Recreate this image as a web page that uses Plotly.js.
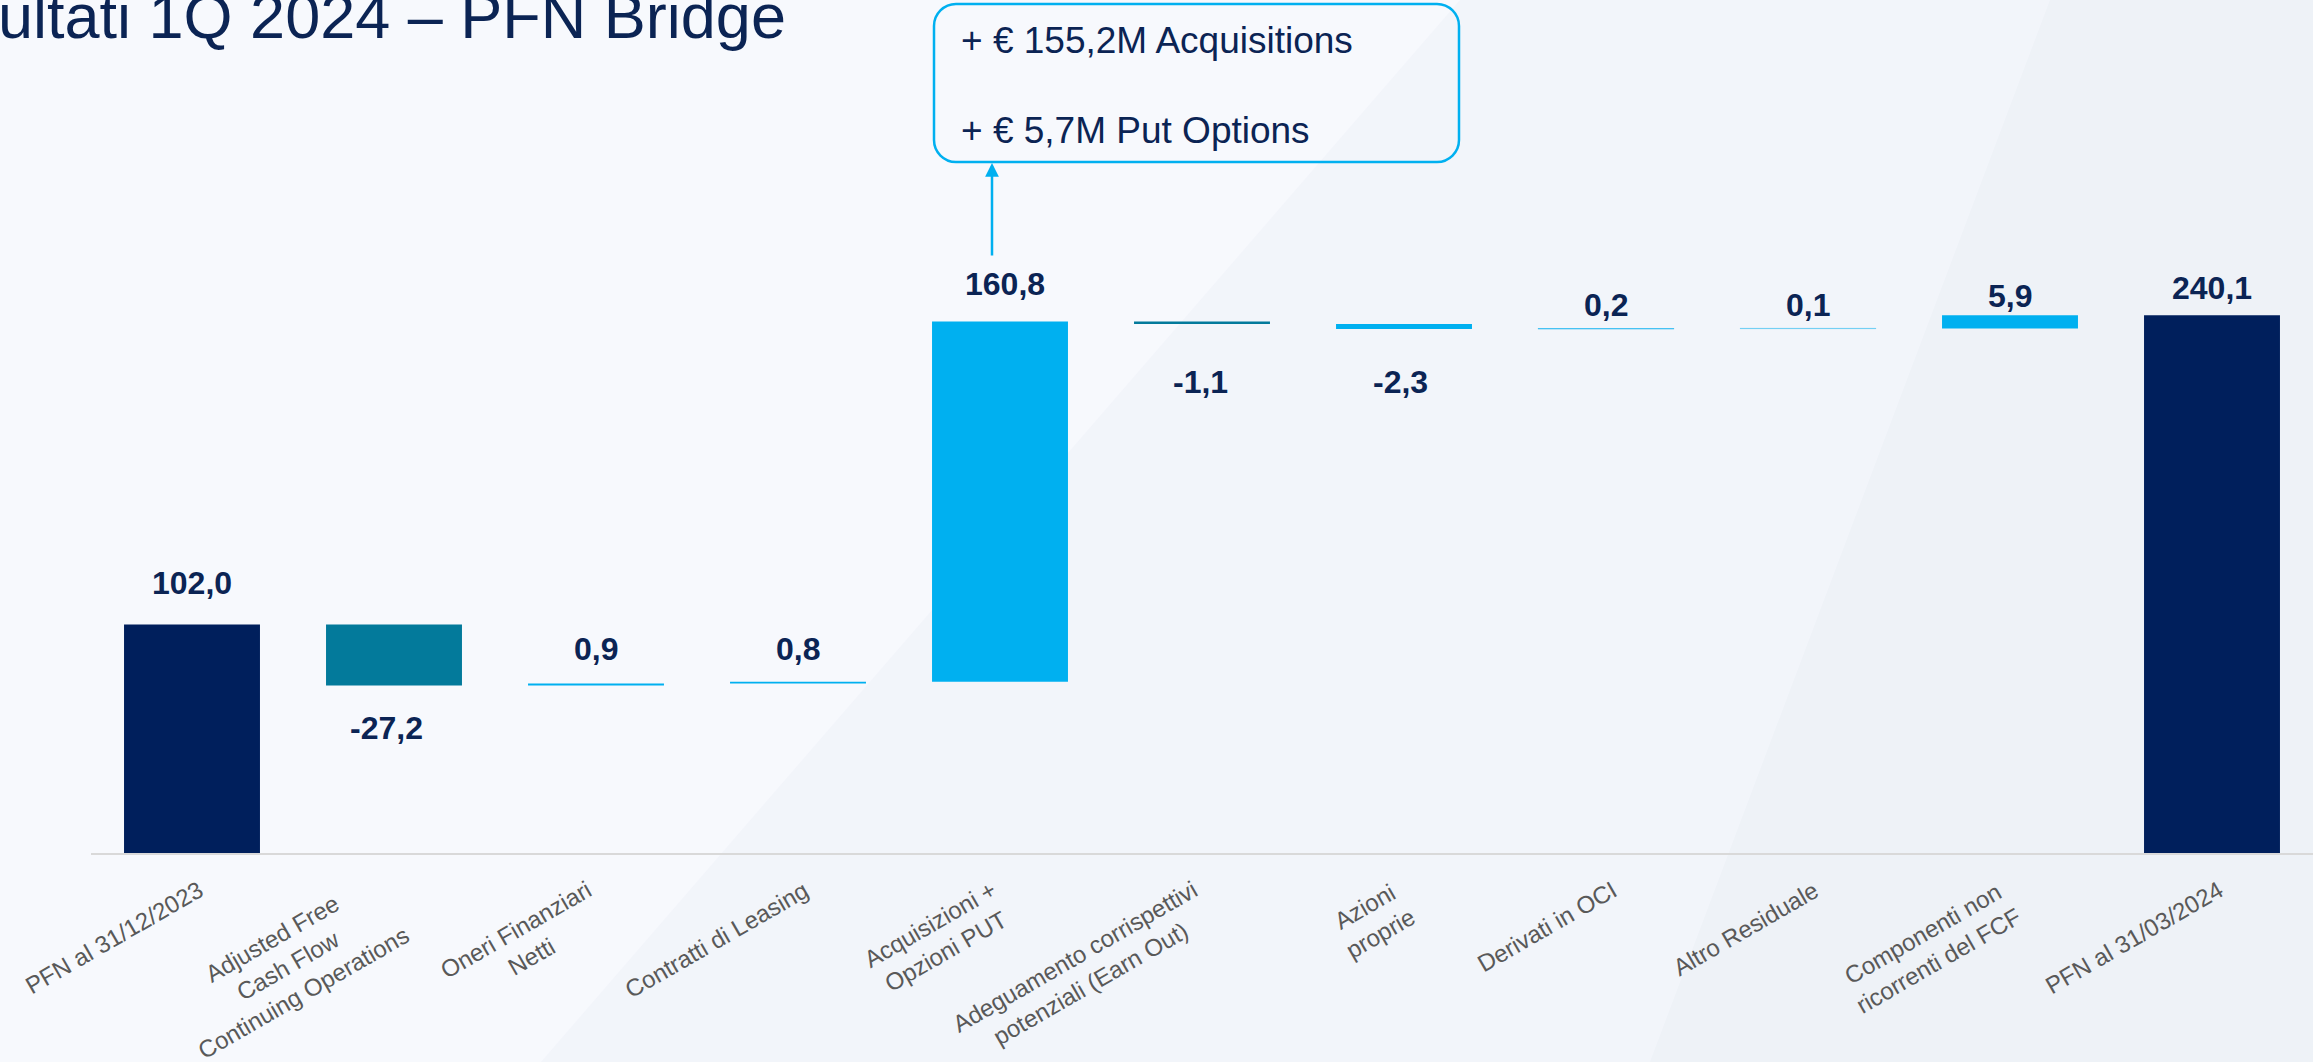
<!DOCTYPE html>
<html>
<head>
<meta charset="utf-8">
<script src="https://cdn.plot.ly/plotly-3.0.1.min.js"></script>
<style>
  html, body { margin: 0; padding: 0; background: #F7F9FD; }
  #chart { width: 2313px; height: 1062px; }
</style>
</head>
<body>
<div id="chart"></div>
<script>
// ---------------- DATA ----------------
const categories = [
  'PFN al 31/12/2023',
  'Adjusted Free<br>Cash Flow<br>Continuing Operations',
  'Oneri Finanziari<br>Netti',
  'Contratti di Leasing',
  'Acquisizioni +<br>Opzioni PUT',
  'Adeguamento corrispettivi<br>potenziali (Earn Out)',
  'Azioni<br>proprie',
  'Derivati in OCI',
  'Altro Residuale',
  'Componenti non<br>ricorrenti del FCF',
  'PFN al 31/03/2024'
];
const values = [102.0, -27.2, 0.9, 0.8, 160.8, -1.1, -2.3, 0.2, 0.1, 5.9, 240.1];
const measures = ['absolute', 'relative', 'relative', 'relative', 'relative', 'relative',
                  'relative', 'relative', 'relative', 'relative', 'total'];
const calloutLines = ['+ € 155,2M Acquisitions', '+ € 5,7M Put Options'];
const titleText = 'Risultati 1Q 2024 – PFN Bridge';

// ---------------- STYLE ----------------
const NAVY = '#001F5C', TEAL = '#037A9B', LIGHT = '#00B0F0';
const TEXT_NAVY = '#0B2454';
const barColors = [NAVY, TEAL, LIGHT, LIGHT, LIGHT, TEAL, LIGHT, LIGHT, LIGHT, LIGHT, NAVY];
// hairline outline so the tiniest steps stay visible, as on the slide
const barLineW = [0, 0, 0, 0, 0, 0, 0, 1, 1, 0, 0];
const barLineC = barColors.map((c, i) => barLineW[i] ? 'rgba(0,176,240,0.35)' : c);
const labelYShift = [42, -43, 34, 33, 37, -58, -53, 24, 23, 19, 27];
const labelXShift = [0, -8, 0, 0, 5, -2, -4, 0, 0, 0, 0];
const catYShift = [0, 9, 0, 0, 0, 0, 0, 0, 0, 0, 0];
const catXShift = [18, 22, 18, 18, 18, 18, 18, 18, 18, 18, 18];

// plot geometry (pixels)
const W = 2313, H = 1062, ML = 91, MR = 0, MT = 0, MB = 209;
const PW = W - ML - MR, PH = H - MT - MB;
const px = X => (X - ML) / PW;
const py = Y => (PH + MT - Y) / PH;

// waterfall bases
const bases = [], heights = [], ends = [];
let run = 0;
measures.forEach((m, i) => {
  const v = values[i];
  if (m === 'absolute' || m === 'total') { bases.push(0); heights.push(v); run = v; }
  else { bases.push(run); heights.push(v); run += v; }
  ends.push(bases[i] + heights[i]);
});
const fmt = v => v.toFixed(1).replace('.', ',');

const trace = {
  type: 'bar',
  x: categories.map((c, i) => i),
  y: heights,
  base: bases,
  marker: { color: barColors, line: { width: barLineW, color: barLineC } },
  hoverinfo: 'skip',
  showlegend: false
};

const FONT = 'Arial, "Liberation Sans", sans-serif';
const annotations = [];
// value labels
values.forEach((v, i) => {
  annotations.push({
    x: i, y: ends[i], xref: 'x', yref: 'y',
    text: fmt(v), showarrow: false,
    xanchor: 'center', yanchor: 'middle',
    yshift: labelYShift[i], xshift: labelXShift[i],
    font: { family: FONT, size: 32, color: TEXT_NAVY, weight: 'bold' }
  });
});
// category labels
categories.forEach((c, i) => {
  annotations.push({
    x: i, y: py(873), xref: 'x', yref: 'paper',
    text: c, showarrow: false, textangle: -30,
    xanchor: 'right', yanchor: 'top', xshift: catXShift[i], yshift: catYShift[i], align: 'center',
    font: { family: FONT, size: 24, color: '#595959' }
  });
});
// title (partially cut off on the left, as in the slide)
annotations.push({
  x: px(788), y: py(-21), xref: 'paper', yref: 'paper',
  text: titleText, showarrow: false, xanchor: 'right', yanchor: 'top',
  font: { family: FONT, size: 63, color: TEXT_NAVY }
});
// callout text
[41, 131].forEach((Y, k) => {
  annotations.push({
    x: px(959), y: py(Y), xref: 'paper', yref: 'paper',
    text: calloutLines[k], showarrow: false, xanchor: 'left', yanchor: 'middle',
    font: { family: FONT, size: 37, color: TEXT_NAVY }
  });
});
// arrow from label to callout
annotations.push({
  x: px(992), y: py(163), xref: 'paper', yref: 'paper',
  text: '', showarrow: true, ax: 0, ay: 94,
  arrowhead: 2, arrowsize: 1.1, arrowwidth: 2.5, arrowcolor: LIGHT, standoff: 0
});

// rounded callout box path
function roundedRect(L, T, R, B, r) {
  const k = 0.5523 * r;
  const P = (X, Y) => px(X).toFixed(5) + ',' + py(Y).toFixed(5);
  return 'M' + P(L + r, T) + ' L' + P(R - r, T) +
    ' C' + P(R - r + k, T) + ' ' + P(R, T + r - k) + ' ' + P(R, T + r) +
    ' L' + P(R, B - r) +
    ' C' + P(R, B - r + k) + ' ' + P(R - r + k, B) + ' ' + P(R - r, B) +
    ' L' + P(L + r, B) +
    ' C' + P(L + r - k, B) + ' ' + P(L, B - r + k) + ' ' + P(L, B - r) +
    ' L' + P(L, T + r) +
    ' C' + P(L, T + r - k) + ' ' + P(L + r - k, T) + ' ' + P(L + r, T) + ' Z';
}
const polyPath = pts => 'M' + pts.map(p => px(p[0]).toFixed(5) + ',' + py(p[1]).toFixed(5)).join(' L') + ' Z';

const shapes = [
  // subtle background diagonal bands
  { type: 'path', xref: 'paper', yref: 'paper', layer: 'below', line: { width: 0 },
    fillcolor: 'rgba(215,222,234,0.15)',
    path: polyPath([[541, 1062], [1460, 0], [2313, 0], [2313, 1062]]) },
  { type: 'path', xref: 'paper', yref: 'paper', layer: 'below', line: { width: 0 },
    fillcolor: 'rgba(215,222,234,0.12)',
    path: polyPath([[1650, 1062], [2050, 0], [2313, 0], [2313, 1062]]) },
  // callout box
  { type: 'path', xref: 'paper', yref: 'paper', layer: 'above',
    line: { color: LIGHT, width: 2.5 }, fillcolor: 'rgba(0,0,0,0)',
    path: roundedRect(934, 4, 1459, 162, 22) }
];

const layout = {
  width: W, height: H,
  margin: { l: ML, r: MR, t: MT, b: MB, pad: 0 },
  paper_bgcolor: '#F7F9FD',
  plot_bgcolor: 'rgba(0,0,0,0)',
  bargap: 0.327,
  showlegend: false,
  xaxis: {
    range: [-0.5, 10.5], showticklabels: false, ticks: '', showgrid: false, zeroline: false,
    showline: true, linecolor: '#D9D9D9', linewidth: 2, fixedrange: true
  },
  yaxis: {
    range: [0, PH / 2.24], showticklabels: false, ticks: '', showgrid: false,
    zeroline: false, showline: false, fixedrange: true
  },
  annotations: annotations,
  shapes: shapes
};

Plotly.newPlot('chart', [trace], layout, { displayModeBar: false, staticPlot: true });
</script>
</body>
</html>
